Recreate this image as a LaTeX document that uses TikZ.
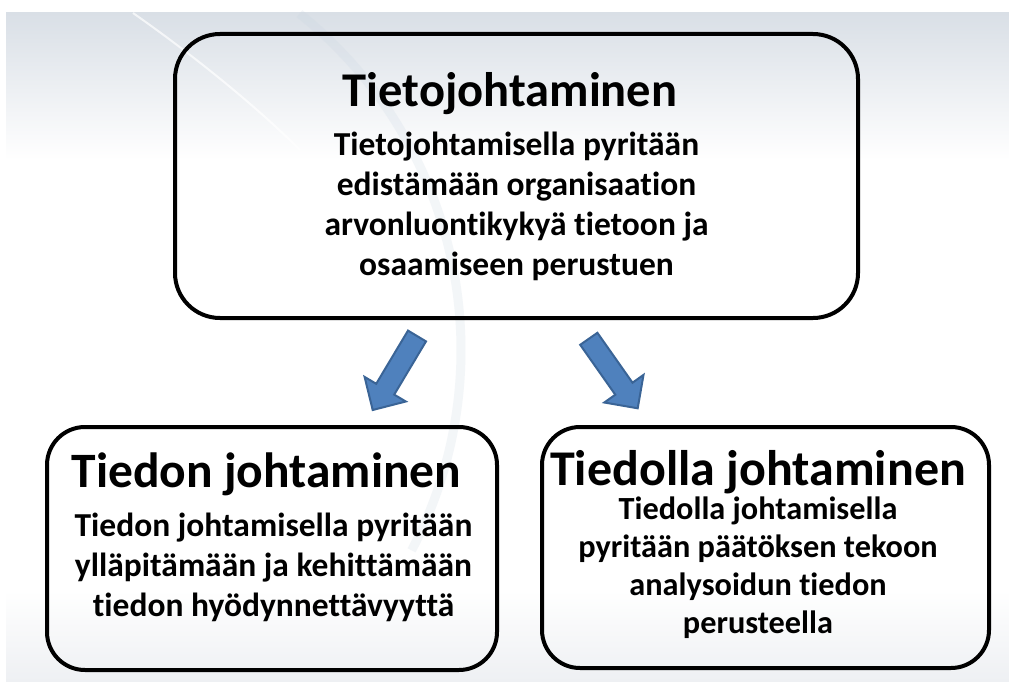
\documentclass[tikz,border=0pt]{standalone}
\usepackage{fontspec}
\setmainfont{Carlito}[Ligatures=NoCommon]
\definecolor{bgtop}{HTML}{D9DFE6}
\definecolor{bgbot}{HTML}{EEF0F3}
\definecolor{arcband}{HTML}{C5D2E0}
\definecolor{arrowfill}{HTML}{4F81BD}
\definecolor{arrowline}{HTML}{3A6496}
\tikzset{
  box/.style={draw=black, line width=4pt, rectangle, inner sep=0pt},
  titletext/.style={font=\bfseries\fontsize{49.5}{52}\selectfont, anchor=base, inner sep=0pt},
  bodytext/.style={font=\bfseries\fontsize{33.5}{40}\selectfont, anchor=base, align=center, inner sep=0pt},
  arrowstyle/.style={fill=arrowfill, draw=arrowline, line width=2pt, line join=miter}
}
\begin{document}
\begin{tikzpicture}[x=1pt,y=1pt]
\useasboundingbox (0,0) rectangle (1009,-682);
% background
\fill[white] (0,0) rectangle (1009,-682);
\shade[top color=bgtop, bottom color=white] (6,-13) rectangle (1009,-160);
\shade[top color=white, bottom color=bgbot] (6,-590) rectangle (1009,-681);
% decorative swoosh
\draw[arcband, line width=9pt, opacity=0.2] (30,-350) ++(51.3:431) arc[start angle=51.3, end angle=-27.7, radius=431];
\draw[white, line width=2pt, opacity=0.7] (133,-13) .. controls (200,-60) and (260,-110) .. (300,-150);
% boxes
\node[box, rounded corners=45pt, minimum width=683pt, minimum height=284pt] (top) at (516.5,-176) {};
\node[box, rounded corners=38pt, minimum width=450pt, minimum height=243pt] (left) at (272,-548.5) {};
\node[box, rounded corners=38pt, minimum width=447pt, minimum height=241pt] (right) at (765.5,-547.5) {};
% texts (base anchor = baseline of last line)
\node[titletext, font=\bfseries\fontsize{48.5}{52}\selectfont] (toptitle) at (510,-107) {Tietojohtaminen};
\node[bodytext] (topbody) at (516.5,-275) {Tietojohtamisella pyritään\\edistämään organisaation\\arvonluontikykyä tietoon ja\\osaamiseen perustuen};
\node[titletext] (lefttitle) at (266.5,-487) {Tiedon johtaminen};
\node[bodytext] (leftbody) at (273.5,-616) {Tiedon johtamisella pyritään\\ylläpitämään ja kehittämään\\tiedon hyödynnettävyyttä};
\node[titletext, font=\bfseries\fontsize{50}{52}\selectfont] (righttitle) at (758,-485) {Tiedolla johtaminen};
\node[bodytext, font=\bfseries\fontsize{32.3}{37.7}\selectfont] (rightbody) at (758,-633) {Tiedolla johtamisella\\pyritään päätöksen tekoon\\analysoidun tiedon\\perusteella};
% block arrows
\draw[arrowstyle] (426,-341.4) -- (394.2,-394.6) -- (405.8,-401.5) -- (372.7,-410)
  -- (364.6,-376.9) -- (376.2,-383.8) -- (408,-330.6) -- cycle;
\draw[arrowstyle] (580.2,-344.8) -- (615.3,-394.7) -- (604.3,-402.5) -- (637.7,-408.3)
  -- (643.5,-374.9) -- (632.5,-382.7) -- (597.4,-332.8) -- cycle;
\end{tikzpicture}
\end{document}
